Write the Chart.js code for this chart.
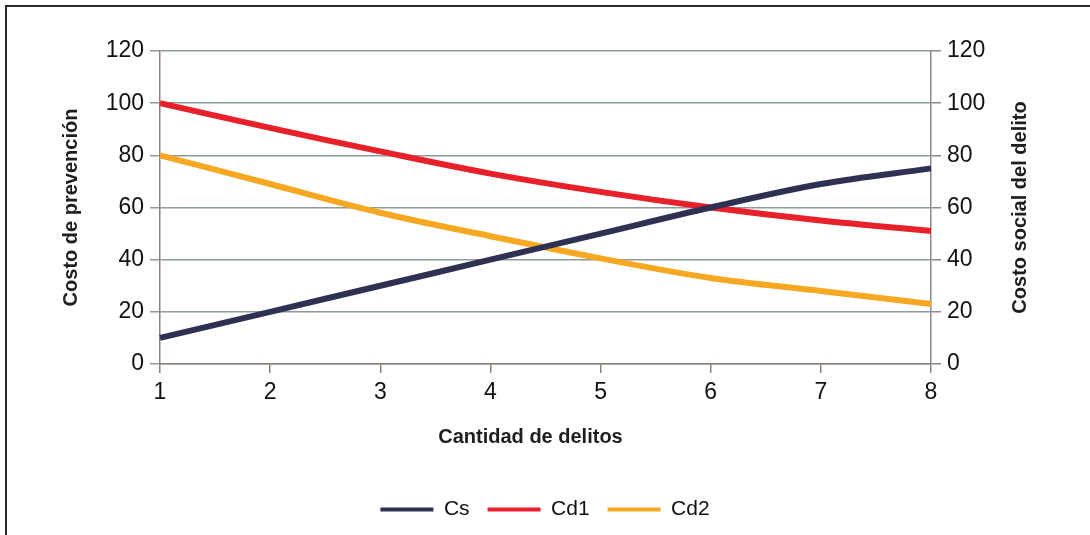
<!DOCTYPE html>
<html lang="es">

<head>
    <meta charset="UTF-8">
    <script src="https://cdn.jsdelivr.net/npm/chart.js"></script>
    <title>Costos del delito</title>
    <style>
        body { margin: 0; background: #fff; }
        #marco {
            position: absolute; left: 5px; top: 5px; width: 1200px; height: 700px;
            border-top: 2px solid #2b2b2b; border-left: 2px solid #2b2b2b;
        }
        #caja { position: absolute; left: 0; top: 0; width: 1090px; height: 535px; }
    </style>
</head>

<body>
    <div id="marco"></div>
    <div id="caja">
        <canvas id="graficoCostos" width="1090" height="535"></canvas>
    </div>
</body>

</html>

<script>
    // datos
    const delitos = ['1', '2', '3', '4', '5', '6', '7', '8'];
    const cs = [10, 20, 30, 40, 50, 60, 69, 75];
    const cd1 = [100, 90.5, 81.5, 73, 66, 60, 55, 51];
    const cd2 = [80, 69, 58, 49, 40.5, 33, 28, 23];
    const ticksY = [0, 20, 40, 60, 80, 100, 120];

    const fuente = '"Liberation Sans", Arial, sans-serif';
    const colorGrilla = '#8c9a9a';
    const colorEje = '#8d817c';

    // titulos del eje x y del eje derecho (el derecho se lee de abajo hacia arriba)
    const titulosEjes = {
        id: 'titulosEjes',
        afterDraw(chart) {
            const ctx = chart.ctx;
            const a = chart.chartArea;
            ctx.save();
            ctx.font = 'bold 20px ' + fuente;
            ctx.fillStyle = '#1e1e1e';
            ctx.textAlign = 'center';
            ctx.textBaseline = 'middle';
            ctx.fillText('Cantidad de delitos', (a.left + a.right) / 2 - 15, a.bottom + 73);
            ctx.translate(a.right + 89, (a.top + a.bottom) / 2);
            ctx.rotate(-Math.PI / 2);
            ctx.fillText('Costo social del delito', 0, 0);
            ctx.restore();
        }
    };

    function serie(nombre, valores, color) {
        return {
            label: nombre,
            data: valores,
            borderColor: color,
            backgroundColor: color,
            borderWidth: 6,
            pointRadius: 0,
            tension: 0.35,
            fill: false
        };
    }

    const config = {
        type: 'line',
        data: {
            labels: delitos,
            datasets: [
                serie('Cs', cs, '#2e3152'),
                serie('Cd1', cd1, '#e8202a'),
                serie('Cd2', cd2, '#f7a823')
            ]
        },
        options: {
            responsive: false,
            animation: false,
            layout: { padding: { top: 51, left: 0, right: 0, bottom: 5 } },
            plugins: {
                tooltip: { enabled: false },
                legend: {
                    position: 'bottom',
                    labels: {
                        usePointStyle: true,
                        pointStyle: 'line',
                        pointStyleWidth: 53,
                        padding: 18,
                        color: '#111',
                        font: { size: 21, family: fuente },
                        // lineas de la leyenda algo mas finas que las series
                        generateLabels: function (chart) {
                            const base = Chart.defaults.plugins.legend.labels.generateLabels(chart);
                            return base.map(l => Object.assign(l, { lineWidth: 4 }));
                        }
                    }
                }
            },
            scales: {
                x: {
                    type: 'category',
                    offset: false,
                    grid: { drawOnChartArea: false, drawTicks: true, tickLength: 9, color: colorEje, lineWidth: 1.5, offset: false },
                    border: { display: true, color: colorEje, width: 1.5 },
                    ticks: { color: '#111', padding: 6, maxRotation: 0, font: { size: 23, family: fuente } },
                    afterFit: function (scale) { scale.height = 117; }
                },
                y: {
                    position: 'left',
                    min: 0,
                    max: 120,
                    afterBuildTicks: function (scale) { scale.ticks = ticksY.map(v => ({ value: v })); },
                    grid: { color: colorGrilla, lineWidth: 1.5, tickLength: 10 },
                    border: { display: true, color: colorEje, width: 1.5 },
                    ticks: { color: '#111', padding: 6, font: { size: 23, family: fuente } },
                    title: {
                        display: true,
                        text: 'Costo de prevención',
                        color: '#1e1e1e',
                        padding: { top: 59, bottom: 0 },
                        font: { size: 20, weight: 'bold', family: fuente }
                    },
                    afterFit: function (scale) { scale.width = 160; }
                },
                y2: {
                    position: 'right',
                    min: 0,
                    max: 120,
                    afterBuildTicks: function (scale) { scale.ticks = ticksY.map(v => ({ value: v })); },
                    grid: { drawOnChartArea: false, color: '#8a8a8a', lineWidth: 1.5, tickLength: 10 },
                    border: { display: true, color: '#8a8a8a', width: 1.5 },
                    ticks: { color: '#111', padding: 6, font: { size: 23, family: fuente } },
                    afterFit: function (scale) { scale.width = 159; }
                }
            }
        },
        plugins: [titulosEjes]
    };

    let grafico = new Chart(document.getElementById('graficoCostos'), config);
</script>
